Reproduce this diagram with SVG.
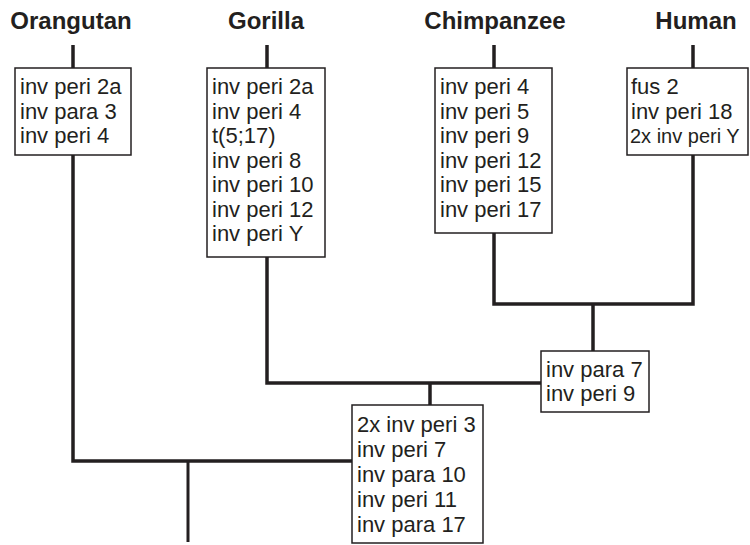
<svg xmlns="http://www.w3.org/2000/svg" width="750" height="545" viewBox="0 0 750 545">
<style>
.t{font-family:"Liberation Sans",Arial,sans-serif;font-size:22px;fill:#231f20}
.h{font-family:"Liberation Sans",Arial,sans-serif;font-size:24px;font-weight:bold;fill:#231f20;text-anchor:middle}
.b{fill:#fff;stroke:#231f20;stroke-width:1.5}
.c{stroke:#231f20;stroke-width:3.5;fill:none;stroke-linejoin:miter;stroke-linecap:butt}
</style>
<rect width="750" height="545" fill="#fff"/>
<g id="connectors">
<path class="c" d="M73 45V68M267 45V68M494 45V68M693 45V68"/>
<path class="c" d="M494 233V304H693V155"/>
<path class="c" d="M593 304V351"/>
<path class="c" d="M267 257V383H541"/>
<path class="c" d="M430 383V405"/>
<path class="c" d="M73 155V461H352"/>
<path class="c" d="M188 461V542" style="stroke-width:3"/>
</g>
<g id="labels">
<text class="h" x="71" y="29">Orangutan</text>
<text class="h" x="266" y="29">Gorilla</text>
<text class="h" x="495" y="29">Chimpanzee</text>
<text class="h" x="696" y="29">Human</text>
</g>
<g id="orangutan">
<rect class="b" x="15" y="68" width="116" height="87"/>
<text class="t" x="20" y="94">inv peri 2a</text>
<text class="t" x="20" y="118.5">inv para 3</text>
<text class="t" x="20" y="143">inv peri 4</text>
</g>
<g id="gorilla">
<rect class="b" x="207" y="68" width="118" height="189"/>
<text class="t" x="212" y="94">inv peri 2a</text>
<text class="t" x="212" y="118.5">inv peri 4</text>
<text class="t" x="212" y="143">t(5;17)</text>
<text class="t" x="212" y="167.5">inv peri 8</text>
<text class="t" x="212" y="192">inv peri 10</text>
<text class="t" x="212" y="216.5">inv peri 12</text>
<text class="t" x="212" y="241">inv peri Y</text>
</g>
<g id="chimpanzee">
<rect class="b" x="435" y="68" width="117" height="165"/>
<text class="t" x="440" y="94">inv peri 4</text>
<text class="t" x="440" y="118.5">inv peri 5</text>
<text class="t" x="440" y="143">inv peri 9</text>
<text class="t" x="440" y="167.5">inv peri 12</text>
<text class="t" x="440" y="192">inv peri 15</text>
<text class="t" x="440" y="216.5">inv peri 17</text>
</g>
<g id="human">
<rect class="b" x="627" y="68" width="121" height="87"/>
<text class="t" x="631" y="94">fus 2</text>
<text class="t" x="631" y="118.5">inv peri 18</text>
<text class="t" x="630" y="143" style="font-size:20px">2x inv peri Y</text>
</g>
<g id="node-chimp-human">
<rect class="b" x="541" y="351" width="108" height="61"/>
<text class="t" x="546" y="377">inv para 7</text>
<text class="t" x="546" y="401">inv peri 9</text>
</g>
<g id="node-african">
<rect class="b" x="352" y="405" width="131" height="138"/>
<text class="t" x="357" y="432">2x inv peri 3</text>
<text class="t" x="357" y="457">inv peri 7</text>
<text class="t" x="357" y="482">inv para 10</text>
<text class="t" x="357" y="507">inv peri 11</text>
<text class="t" x="357" y="532">inv para 17</text>
</g>
</svg>
